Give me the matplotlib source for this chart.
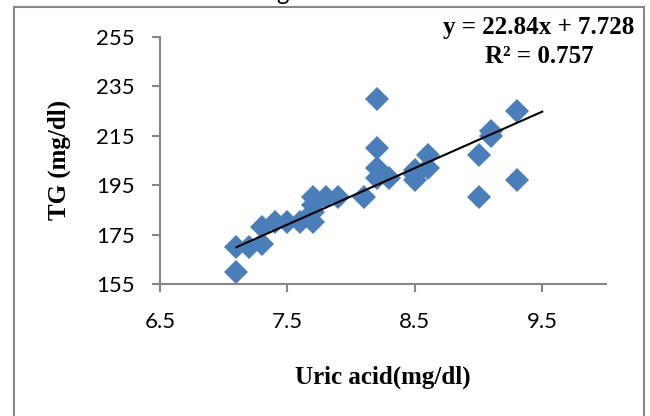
import matplotlib
matplotlib.use("Agg")
import numpy as np
import matplotlib.pyplot as plt
from matplotlib.patches import Rectangle

# data
uric_acid = [7.1, 7.1, 7.2, 7.3, 7.3, 7.4, 7.5, 7.6, 7.7, 7.7, 7.7, 7.7,
             7.8, 7.9, 8.1, 8.2, 8.2, 8.2, 8.2, 8.3, 8.5, 8.5, 8.5,
             8.6, 8.6, 9.0, 9.0, 9.1, 9.1, 9.3, 9.3]
tg = [170, 160, 170, 171, 178, 180, 180, 180, 180, 190, 187, 184,
      190, 190, 190, 230, 210, 202, 198, 198, 201, 197, 199,
      207, 202, 207, 190, 217, 215, 225, 197]

slope, intercept = 22.84, 7.728
r2 = 0.757
trend_end = 9.5

x_ticks = [6.5, 7.5, 8.5, 9.5]
y_ticks = [155, 175, 195, 215, 235, 255]

fig = plt.figure(figsize=(6.5, 4.16), dpi=100)
ax = fig.add_axes([160 / 650, 132 / 416, 446 / 650, 247.3 / 416])

ax.plot(uric_acid, tg, linestyle="none", marker="D", markersize=12.5,
        color="#4a7ebb", markeredgewidth=0)
tx = np.array([min(uric_acid), trend_end])
ax.plot(tx, slope * tx + intercept, color="black", linewidth=1.5)

ax.set_xlim(6.5, 10)
ax.set_ylim(155, 255)
ax.set_xticks(x_ticks)
ax.set_yticks(y_ticks)
ax.set_xticklabels([str(v) for v in x_ticks], fontfamily="Lato", fontsize=16)
ax.set_yticklabels([str(v) for v in y_ticks], fontfamily="Lato", fontsize=16)

for s in ["top", "right"]:
    ax.spines[s].set_visible(False)
for s in ["left", "bottom"]:
    ax.spines[s].set_color("#868686")
    ax.spines[s].set_linewidth(1.5)
ax.tick_params(colors="#868686", labelcolor="black", width=1.5, length=6)
ax.tick_params(axis="x", pad=14)
ax.tick_params(axis="y", pad=12)

ax.set_xlabel("Uric acid(mg/dl)", fontfamily="Liberation Serif",
              fontweight="bold", fontsize=18, labelpad=24)
ax.set_ylabel("TG (mg/dl)", fontfamily="Liberation Serif",
              fontweight="bold", fontsize=18, labelpad=18)

fig.text(539 / 650, 1 - 42 / 416,
         f"y = {slope}x + {intercept}\nR² = {r2}",
         ha="center", va="center", multialignment="center",
         fontfamily="Liberation Serif", fontweight="bold", fontsize=18,
         linespacing=1.35)

# chart frame (bottom edge lies outside the image) and clipped title
fig.patches.append(Rectangle((14 / 650, -0.1), 630 / 650, 1.1 - 7 / 416,
                             transform=fig.transFigure, fill=False,
                             edgecolor="#868686", linewidth=1.5))
fig.text(282 / 650, 1.0, "g", ha="center", va="baseline",
         fontfamily="Lato", fontsize=17)

fig.savefig("out.png", dpi=100)
